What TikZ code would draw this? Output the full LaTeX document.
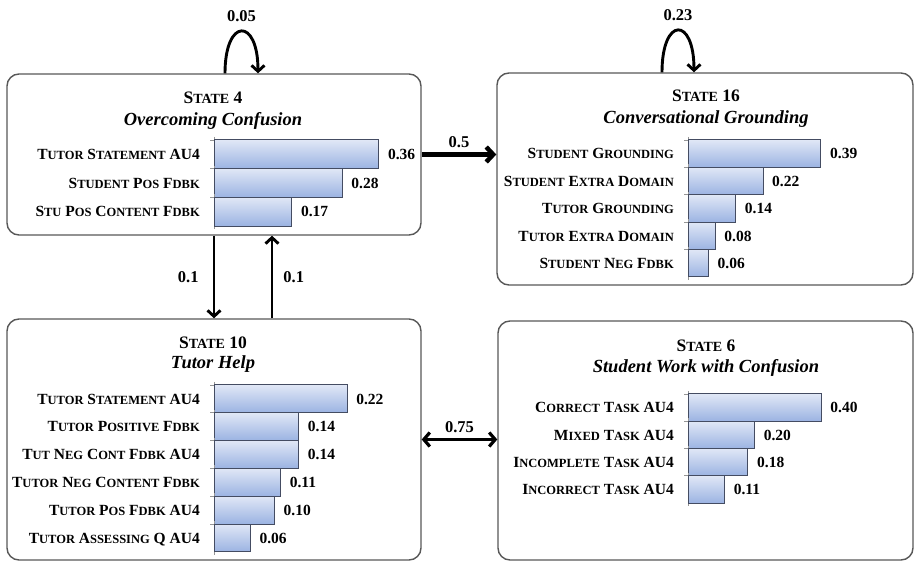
\documentclass[tikz,border=0pt]{standalone}
\usepackage{fontspec}
\setmainfont{Liberation Serif}
\usetikzlibrary{arrows.meta}
\definecolor{barTop}{RGB}{224,231,246}
\definecolor{barBot}{RGB}{155,179,226}
\definecolor{barEdge}{RGB}{68,76,98}
\definecolor{boxEdge}{RGB}{88,88,88}
\definecolor{axisGray}{RGB}{150,150,150}

% fake small caps for the labels and the titles
\newcommand\sm[1]{{\fontsize{12.5}{13}\selectfont #1}}
\newcommand\smt[1]{{\fontsize{14}{15}\selectfont #1}}

\tikzset{
  state/.style={draw=boxEdge, line width=1.4pt, rounded corners=12pt, fill=white, inner sep=0pt},
  bar/.style={draw=barEdge, line width=1pt, top color=barTop, bottom color=barBot},
  axis/.style={draw=axisGray, line width=0.8pt},
  lab/.style={anchor=base east, inner sep=0pt, font=\bfseries\fontsize{15.5}{16}\selectfont},
  val/.style={anchor=base west, inner sep=0pt, font=\bfseries\fontsize{15.5}{16}\selectfont},
  title/.style={anchor=base, inner sep=0pt, font=\bfseries\fontsize{17.5}{18}\selectfont},
  subtitle/.style={anchor=base, inner sep=0pt, font=\bfseries\itshape\fontsize{18.5}{19}\selectfont},
  trans/.style={-{Straight Barb[length=6pt,width=13pt]}, line width=2.9pt},
  prob/.style={font=\bfseries\fontsize{16.5}{17}\selectfont, inner sep=2pt}
}

% #1 axis x, #2 top y, #3 row height, #4 px per unit, #5 name, #6 label/value list
\newcommand\barchart[6]{%
  \foreach \lab/\val [count=\i from 0] in {#6} {
    \draw[axis] (#1,{#2+\i*#3-3}) -- (#1,{#2+(\i+1)*#3+3});
    \draw[axis] ({#1-4},{#2+\i*#3}) -- (#1,{#2+\i*#3});
    \draw[bar] (#1,{#2+\i*#3}) rectangle ++({\val*#4},#3);
    \node[lab] (#5-l\i) at ({#1-14},{#2+(\i+0.5)*#3+5.2}) {\lab};
    \node[val] (#5-v\i) at ({#1+\val*#4+9},{#2+(\i+0.5)*#3+5.2}) {\val};
  }
}

\begin{document}
\begin{tikzpicture}[x=1pt, y=-1pt]
\useasboundingbox (0,0) rectangle (914,561);

% states
\node[state, minimum width=414pt, minimum height=161pt] (s4) at (214,154.5) {};
\node[state, minimum width=416pt, minimum height=212pt] (s16) at (705,179) {};
\node[state, minimum width=414pt, minimum height=241pt] (s10) at (214,439.5) {};
\node[state, minimum width=415pt, minimum height=239pt] (s6) at (705.5,440.5) {};

\node[title] (t4) at (213,104) {S\smt{TATE} 4};
\node[subtitle] (n4) at (213,126) {Overcoming Confusion};
\node[title] (t16) at (706,102) {S\smt{TATE} 16};
\node[subtitle] (n16) at (706,124) {Conversational Grounding};
\node[title] (t10) at (213,349) {S\smt{TATE} 10};
\node[subtitle] (n10) at (213,369) {Tutor Help};
\node[title] (t6) at (706,352) {S\smt{TATE} 6};
\node[subtitle] (n6) at (706,373) {Student Work with Confusion};

% emissions
\barchart{214}{140}{28.7}{458}{b4}{
  {T\sm{UTOR} S\sm{TATEMENT} AU4}/0.36,
  {S\sm{TUDENT} P\sm{OS} F\sm{DBK}}/0.28,
  {S\sm{TU} P\sm{OS} C\sm{ONTENT} F\sm{DBK}}/0.17}
\barchart{688}{140}{27.4}{341}{b16}{
  {S\sm{TUDENT} G\sm{ROUNDING}}/0.39,
  {S\sm{TUDENT} E\sm{XTRA} D\sm{OMAIN}}/0.22,
  {T\sm{UTOR} G\sm{ROUNDING}}/0.14,
  {T\sm{UTOR} E\sm{XTRA} D\sm{OMAIN}}/0.08,
  {S\sm{TUDENT} N\sm{EG} F\sm{DBK}}/0.06}
\barchart{214}{385}{27.8}{605}{b10}{
  {T\sm{UTOR} S\sm{TATEMENT} AU4}/0.22,
  {T\sm{UTOR} P\sm{OSITIVE} F\sm{DBK}}/0.14,
  {T\sm{UT} N\sm{EG} C\sm{ONT} F\sm{DBK} AU4}/0.14,
  {T\sm{UTOR} N\sm{EG} C\sm{ONTENT} F\sm{DBK}}/0.11,
  {T\sm{UTOR} P\sm{OS} F\sm{DBK} AU4}/0.10,
  {T\sm{UTOR} A\sm{SSESSING} Q AU4}/0.06}
\barchart{688}{394}{27.3}{333}{b6}{
  {C\sm{ORRECT} T\sm{ASK} AU4}/0.40,
  {M\sm{IXED} T\sm{ASK} AU4}/0.20,
  {I\sm{NCOMPLETE} T\sm{ASK} AU4}/0.18,
  {I\sm{NCORRECT} T\sm{ASK} AU4}/0.11}

% transitions
\draw[trans] ([xshift=11pt]s4.north) .. controls +(0,-56) and +(0,-56) .. ([xshift=44pt]s4.north)
  node[prob, pos=0.5, above=6pt] (p44) {0.05};
\draw[trans] ([xshift=-43pt]s16.north) .. controls +(0,-56) and +(0,-56) .. ([xshift=-11pt]s16.north)
  node[prob, pos=0.5, above=6pt] (p1616) {0.23};
\draw[trans, line width=4.5pt, -{Straight Barb[length=7pt,width=15pt]}] (s4.east) -- (s4.east -| s16.west)
  node[prob, midway, above=3pt] (p416) {0.5};
\draw[trans] (s4.south) -- (s10.north)
  node[prob, midway, left=12pt] (p410) {0.1};
\draw[trans] ([xshift=58pt]s10.north) -- ([xshift=58pt]s4.south)
  node[prob, midway, right=8pt] (p104) {0.1};
\draw[trans, line width=3.2pt, {Straight Barb[length=6pt,width=14pt]}-{Straight Barb[length=6pt,width=14pt]}] (s10.east) -- (s10.east -| s6.west)
  node[prob, midway, above=3pt] (p106) {0.75};
\end{tikzpicture}
\end{document}
